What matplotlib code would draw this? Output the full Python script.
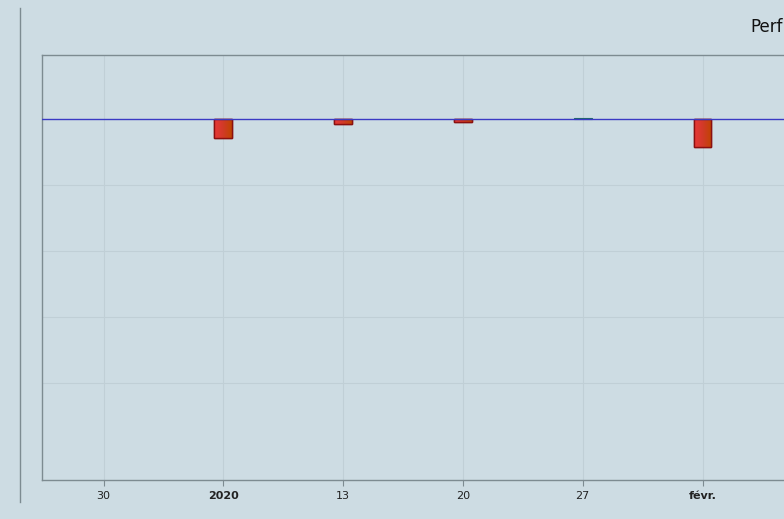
import numpy as np
import matplotlib
matplotlib.use('Agg')
import matplotlib.pyplot as plt
import matplotlib.dates as mdates
from matplotlib.colors import LinearSegmentedColormap
from matplotlib.lines import Line2D
import datetime as dt

# ─── Data (weekly performance, %) ───────────────────────────────────────────
weeks = ['2020-01-06', '2020-01-13', '2020-01-20', '2020-01-27', '2020-02-03']
perf = [-0.58, -0.15, -0.09, 0.03, -0.85]

tick_dates = ['2019-12-30', '2020-01-06', '2020-01-13', '2020-01-20',
              '2020-01-27', '2020-02-03']
tick_labels = ['30', '2020', '13', '20', '27', 'févr.']
bold_labels = ['2020', 'févr.']
y_grid = [0, -2, -4, -6, -8]

# visible part of the (cropped) title
title = 'Perf'

# ─── Style ──────────────────────────────────────────────────────────────────
BG = '#cddce3'
GRID = '#c0cfd6'
FRAME = '#7d8b91'
ZERO = '#3a3ac4'
NEG_EDGE = '#8a1010'
POS_COLOR = '#1f6e60'
neg_cmap = LinearSegmentedColormap.from_list('neg', ['#e83838', '#d23a28', '#c04400'])

plt.rcParams['font.family'] = 'DejaVu Sans'

fig = plt.figure(figsize=(7.84, 5.19), dpi=100, facecolor=BG)
W, H = 784, 519
# plot area runs off the right edge (the picture is a crop)
left, top, bottom, right = 42, 55, 480, 880
ax = fig.add_axes([left / W, 1 - bottom / H, (right - left) / W, (bottom - top) / H])
ax.set_facecolor(BG)

x_weeks = mdates.date2num([dt.date.fromisoformat(d) for d in weeks])
x_ticks = mdates.date2num([dt.date.fromisoformat(d) for d in tick_dates])

px_per_day = 119.8 / 7
x0 = x_ticks[0] - (103.5 - left) / px_per_day
ax.set_xlim(x0, x0 + (right - left) / px_per_day)
y_per_px = 2 / 66
ax.set_ylim(-(bottom - 119) * y_per_px, (119 - top) * y_per_px)

# grid
for x in x_ticks:
    ax.axvline(x, color=GRID, lw=0.8, zorder=0)
for y in y_grid[1:]:
    ax.axhline(y, color=GRID, lw=0.8, zorder=0)

# bars
bar_w = 18 / px_per_day
grad = np.linspace(0, 1, 64).reshape(1, -1)
for x, v in zip(x_weeks, perf):
    if v < 0:
        bars = ax.bar(x, v, width=bar_w, color='#d83a30', edgecolor=NEG_EDGE,
                      linewidth=1.0, zorder=2)
        im = ax.imshow(grad, cmap=neg_cmap, aspect='auto', zorder=2.5,
                       extent=[x - bar_w / 2, x + bar_w / 2, v, 0])
        im.set_clip_path(bars[0])
        ax.bar(x, v, width=bar_w, fill=False, edgecolor=NEG_EDGE,
               linewidth=1.0, zorder=3)
    else:
        ax.bar(x, v, width=bar_w, color=POS_COLOR, edgecolor=POS_COLOR,
               linewidth=0.8, zorder=2)

ax.axhline(0, color=ZERO, lw=1.0, zorder=4)

# frame
for s in ['top', 'left', 'bottom', 'right']:
    ax.spines[s].set_color(FRAME)
    ax.spines[s].set_linewidth(1.0)

ax.set_yticks([])
ax.set_xticks(x_ticks)
ax.set_xticklabels(tick_labels, fontsize=8, color='#222222')
for lbl in ax.get_xticklabels():
    if lbl.get_text() in bold_labels:
        lbl.set_fontweight('bold')
ax.tick_params(axis='x', length=4, width=0.8, color=FRAME, pad=4)

# left separator line
fig.add_artist(Line2D([20 / W, 20 / W], [1 - 8 / H, 1 - 502 / H],
                      color=FRAME, lw=1.0))

# title (cut off by the crop in the reference)
fig.text(750 / W, 1 - 27 / H, title, fontsize=12, color='#111111',
         ha='left', va='center')

fig.savefig('out.png', dpi=100, facecolor=BG)
